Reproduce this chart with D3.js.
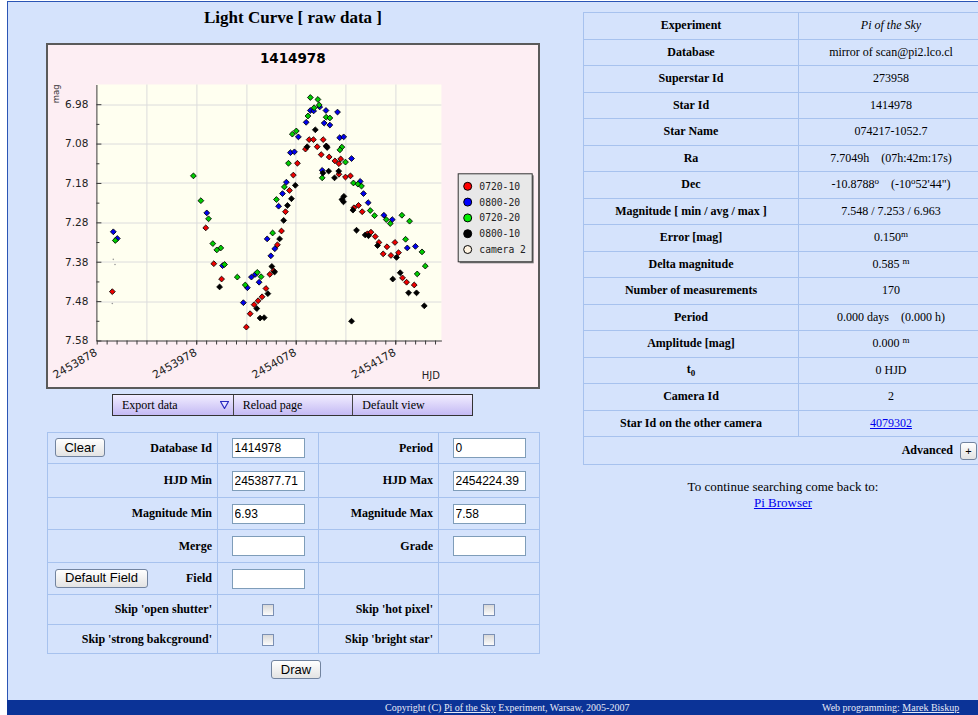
<!DOCTYPE html>
<html>
<head>
<meta charset="utf-8">
<script src="https://d3js.org/d3.v7.min.js"></script>
<style>
  body { margin: 0; width: 978px; height: 715px; overflow: hidden; background: #fff;
         font-family: "Liberation Serif", "Times New Roman", serif; font-size: 12px; color: #000; }
  #frame { position: absolute; left: 7px; top: 1px; width: 980px; height: 699px;
           background: #d5e3fc; border-top: 1px solid #2b55b5; border-left: 1px solid #2b55b5; }
  #title { position: absolute; left: 47px; width: 492px; top: 8px; text-align: center;
           font-weight: bold; font-size: 17px; }
  #chart { position: absolute; left: 46px; top: 43px; }
  #menu { position: absolute; left: 112px; top: 394px; width: 359px; height: 20px;
          border: 1px solid #333; background: linear-gradient(#f1edff, #c4baf4); display: flex; }
  #menu div { width: 120px; line-height: 20px; padding-left: 9px; box-sizing: border-box; position: relative; }
  #menu div + div { border-left: 1px solid #444; }
  #menu svg { position: absolute; left: 107px; top: 6px; }
  table { border-collapse: collapse; table-layout: fixed; position: absolute; }
  td, th { border: 1px solid #a7c2ee; padding: 0; }
  #form { left: 47px; top: 432px; width: 492px; border: 1px solid #a0bcec; }
  #form td { position: relative; font-weight: bold; text-align: right; padding-right: 5px; }
  #form td.c { text-align: center; padding-right: 0; }
  .inp { width: 73px; height: 20px; box-sizing: border-box; border: 1px solid #7f9db9; background: #fff;
         font-family: "Liberation Sans", sans-serif; font-size: 12px; padding: 0 2px; vertical-align: middle; }
  .btn { font-family: "Liberation Sans", sans-serif; font-size: 13px; height: 19px; padding: 0;
         border: 1px solid #72849f; border-radius: 3px; background: linear-gradient(#ffffff, #e3e3e3);
         color: #000; line-height: 16px; font-weight: normal; }
  #form .btn { position: absolute; left: 7px; top: 50%; margin-top: -10px; }
  .chk { -webkit-appearance: none; appearance: none; width: 12px; height: 12px; margin: 0;
         border: 1px solid #7b90b4; background: linear-gradient(#d9d9d9, #fbfbfb); vertical-align: middle; }
  #draw { position: absolute; left: 271px; top: 660px; width: 50px; }
  #info { left: 583px; top: 12px; width: 400px; border: 1px solid #9cb8ea; }
  #info th, #info td { height: 25.5px; text-align: center; }
  #info th { font-weight: bold; }
  #info sup { font-size: 9px; vertical-align: 4px; line-height: 0; }
  #info td.adv { text-align: right; padding-right: 6px; height: 27px; }
  .plus { width: 17px; height: 18px; font-size: 11px; vertical-align: middle; margin-left: 7px; line-height: 14px; }
  a { color: #0000ee; text-decoration: underline; }
  #back { position: absolute; left: 583px; width: 400px; top: 479px; text-align: center;
          font-size: 13px; line-height: 16px; }
  #footer { position: absolute; left: 7px; top: 700px; width: 971px; height: 15px; background: #0b3397;
            color: #e6e9f6; font-size: 10px; line-height: 15px; white-space: nowrap; }
  #footer a { color: #e6e9f6; }
</style>
</head>
<body>
<div id="frame"></div>
<div id="title">Light Curve [ raw data ]</div>
<div id="chart"></div>

<div id="menu">
  <div>Export data<svg width="9" height="8"><polygon points="0.5,0.5 8.5,0.5 4.5,7.5" fill="#e8e4ff" stroke="#2a2ac0" stroke-width="1.2"/></svg></div>
  <div>Reload page</div>
  <div>Default view</div>
</div>

<table id="form">
  <colgroup><col style="width:170px"><col style="width:101px"><col style="width:120px"><col style="width:101px"></colgroup>
  <tr style="height:31px"><td><button class="btn" style="width:50px">Clear</button>Database Id</td>
    <td class="c"><input class="inp" value="1414978"></td><td>Period</td><td class="c"><input class="inp" value="0"></td></tr>
  <tr style="height:34px"><td>HJD Min</td><td class="c"><input class="inp" value="2453877.71"></td>
    <td>HJD Max</td><td class="c"><input class="inp" value="2454224.39"></td></tr>
  <tr style="height:32px"><td>Magnitude Min</td><td class="c"><input class="inp" value="6.93"></td>
    <td>Magnitude Max</td><td class="c"><input class="inp" value="7.58"></td></tr>
  <tr style="height:33px"><td>Merge</td><td class="c"><input class="inp" value=""></td>
    <td>Grade</td><td class="c"><input class="inp" value=""></td></tr>
  <tr style="height:32px"><td><button class="btn" style="width:93px">Default Field</button>Field</td>
    <td class="c"><input class="inp" value=""></td><td></td><td></td></tr>
  <tr style="height:30px"><td>Skip 'open shutter'</td><td class="c"><input type="checkbox" class="chk"></td>
    <td>Skip 'hot pixel'</td><td class="c"><input type="checkbox" class="chk"></td></tr>
  <tr style="height:29px"><td>Skip 'strong bakcground'</td><td class="c"><input type="checkbox" class="chk"></td>
    <td>Skip 'bright star'</td><td class="c"><input type="checkbox" class="chk"></td></tr>
</table>
<button id="draw" class="btn">Draw</button>

<table id="info">
  <colgroup><col style="width:215px"><col style="width:185px"></colgroup>
  <tr><th>Experiment</th><td><i>Pi of the Sky</i></td></tr>
  <tr><th>Database</th><td>mirror of scan@pi2.lco.cl</td></tr>
  <tr><th>Superstar Id</th><td>273958</td></tr>
  <tr><th>Star Id</th><td>1414978</td></tr>
  <tr><th>Star Name</th><td>074217-1052.7</td></tr>
  <tr><th>Ra</th><td>7.7049h &nbsp;&nbsp; (07h:42m:17s)</td></tr>
  <tr><th>Dec</th><td>-10.8788<sup>o</sup> &nbsp;&nbsp; (-10<sup>o</sup>52'44")</td></tr>
  <tr><th>Magnitude [ min / avg / max ]</th><td>7.548 / 7.253 / 6.963</td></tr>
  <tr><th>Error [mag]</th><td>0.150<sup>m</sup></td></tr>
  <tr><th>Delta magnitude</th><td>0.585 <sup>m</sup></td></tr>
  <tr><th>Number of measurements</th><td>170</td></tr>
  <tr><th>Period</th><td>0.000 days &nbsp;&nbsp; (0.000 h)</td></tr>
  <tr><th>Amplitude [mag]</th><td>0.000 <sup>m</sup></td></tr>
  <tr><th>t<sub style="font-size:9px">0</sub></th><td>0 HJD</td></tr>
  <tr><th>Camera Id</th><td>2</td></tr>
  <tr><th>Star Id on the other camera</th><td><a href="#">4079302</a></td></tr>
  <tr><td colspan="2" class="adv"><b>Advanced</b><button class="btn plus">+</button></td></tr>
</table>

<div id="back">To continue searching come back to:<br><a href="#">Pi Browser</a></div>

<div id="footer">
  <span style="position:absolute;left:378px">Copyright (C) <a href="#">Pi of the Sky</a> Experiment, Warsaw, 2005-2007</span>
  <span style="position:absolute;left:815px">Web programming: <a href="#">Marek Biskup</a></span>
</div>

<script>
// Light curve values (HJD, magnitude), one pair of arrays per series
var hjdRed = [2453893.7, 2453987.6, 2453995.7, 2454003.5, 2454028.4, 2454032.2, 2454036.2, 2454040.2,
  2454044.2, 2454048.1, 2454052.0, 2454055.8, 2454059.6, 2454063.7, 2454067.7, 2454071.7, 2454075.6,
  2454079.7, 2454087.8, 2454091.5, 2454095.8, 2454099.6, 2454105.6, 2454103.6, 2454111.6, 2454117.4,
  2454121.4, 2454123.2, 2454128.0, 2454133.0, 2454136.5, 2454141.1, 2454144.8, 2454150.1, 2454153.6,
  2454157.9, 2454161.6, 2454169.7, 2454177.7, 2454165.9, 2454173.7, 2454181.3, 2454185.3, 2454189.4,
  2454197.1, 2454109.1, 2454121.4];
var magRed = [7.456, 7.294, 7.385, 7.424, 7.546, 7.512, 7.489, 7.479, 7.469, 7.448, 7.412, 7.403, 7.337,
  7.302, 7.253, 7.199, 7.160, 7.130, 7.094, 7.070, 7.070, 7.088, 7.070, 7.108, 7.114, 7.124, 7.131, 7.119,
  7.165, 7.162, 7.243, 7.237, 7.253, 7.309, 7.305, 7.316, 7.331, 7.342, 7.331, 7.360, 7.364, 7.357, 7.421,
  7.432, 7.439, 7.087, 7.158];

var hjdBlue = [2453894.7, 2453898.7, 2453988.6, 2454004.5, 2454029.4, 2454025.4, 2454033.5, 2454037.4,
  2454041.2, 2454049.3, 2454053.0, 2454057.0, 2454060.8, 2454064.7, 2454068.6, 2454072.7, 2454076.7,
  2454080.7, 2454088.5, 2454092.7, 2454096.0, 2454102.1, 2454108.4, 2454120.0, 2454106.6, 2454112.3,
  2454122.2, 2454126.2, 2454134.1, 2454104.6, 2454142.8, 2454146.1, 2454150.8, 2454166.6, 2454175.0,
  2454190.1, 2454198.3];
var magBlue = [7.304, 7.321, 7.256, 7.390, 7.446, 7.484, 7.419, 7.412, 7.432, 7.322, 7.365, 7.347, 7.239,
  7.207, 7.178, 7.103, 7.101, 7.063, 7.026, 6.996, 6.997, 6.987, 6.996, 7.000, 7.028, 7.033, 7.065, 7.063,
  7.118, 7.148, 7.176, 7.207, 7.230, 7.262, 7.273, 7.345, 7.341];

var hjdGreen = [2453896.7, 2453975.2, 2453982.7, 2453990.4, 2453994.7, 2453998.7, 2454002.7, 2454006.5,
  2454019.3, 2454027.3, 2454039.4, 2454043.2, 2454054.8, 2454058.6, 2454066.6, 2454070.7, 2454074.6,
  2454078.6, 2454090.3, 2454092.7, 2454100.3, 2454096.5, 2454101.6, 2454108.6, 2454112.3, 2454124.4,
  2454122.4, 2454128.0, 2454104.6, 2454136.0, 2454140.5, 2454144.1, 2454152.9, 2454157.2, 2454169.0,
  2454173.0, 2454184.7, 2454192.4, 2454188.4, 2454204.9, 2454208.2, 2454200.1];
var magGreen = [7.326, 7.162, 7.225, 7.271, 7.334, 7.350, 7.345, 7.387, 7.419, 7.439, 7.407, 7.418, 7.307,
  7.222, 7.190, 7.130, 7.056, 7.048, 7.010, 6.963, 6.968, 6.989, 6.982, 7.013, 7.015, 7.089, 7.096, 7.127,
  7.167, 7.180, 7.183, 7.188, 7.250, 7.263, 7.273, 7.283, 7.262, 7.277, 7.323, 7.355, 7.391, 7.411];

var hjdBlack = [2454001.5, 2454038.9, 2454042.2, 2454046.3, 2454050.0, 2454054.0, 2454056.8, 2454061.8,
  2454065.9, 2454069.7, 2454073.7, 2454077.6, 2454089.5, 2454097.7, 2454108.6, 2454109.6, 2454105.3,
  2454111.1, 2454117.0, 2454121.2, 2454126.4, 2454124.4, 2454126.0, 2454135.5, 2454139.1, 2454134.1,
  2454147.8, 2454151.1, 2454160.2, 2454179.3, 2454183.0, 2454175.5, 2454191.4, 2454199.4, 2454207.2];
var magBlack = [7.444, 7.499, 7.523, 7.522, 7.461, 7.392, 7.406, 7.322, 7.275, 7.237, 7.220, 7.186, 7.088,
  7.045, 7.086, 7.090, 7.155, 7.150, 7.167, 7.150, 7.214, 7.222, 7.228, 7.249, 7.300, 7.531, 7.312, 7.314,
  7.339, 7.369, 7.408, 7.424, 7.459, 7.459, 7.492];

// camera 2 points are only tiny dots
var hjdCam2 = [2453894.7, 2453896.4, 2453893.7];
var magCam2 = [7.374, 7.387, 7.486];

var seriesNames = ["0720-10", "0800-20", "0720-20", "0800-10", "camera 2"];
var legendColors = ["#ff0000", "#0000ff", "#00ee00", "#000000", "#fff4e2"];

var hjdMin = 2453877.71, hjdMax = 2454224.39;
var magMin = 6.93, magMax = 7.58;
var xTickValues = [2453878, 2453978, 2454078, 2454178];
var xGridValues = [2453928, 2453978, 2454028, 2454078, 2454128, 2454178];
var yTickValues = [6.98, 7.08, 7.18, 7.28, 7.38, 7.48, 7.58];

var svgWidth = 494;
var svgHeight = 346;

var margin = {
  top: 41.5,
  right: 98.6,
  bottom: 48.5,
  left: 50.4
};

var width = svgWidth - margin.left - margin.right;
var height = svgHeight - margin.top - margin.bottom;

var svg = d3.select("#chart")
  .append("svg")
  .attr("width", svgWidth)
  .attr("height", svgHeight)
  .style("display", "block");

// image background with its dark frame
svg.append("rect")
  .attr("x", 1).attr("y", 1)
  .attr("width", svgWidth - 2).attr("height", svgHeight - 2)
  .attr("fill", "#fdeef3")
  .attr("stroke", "#5a5a5a")
  .attr("stroke-width", 2);

svg.append("text")
  .attr("x", 246.8).attr("y", 19.7)
  .attr("text-anchor", "middle")
  .style("font", "bold 13.5px 'DejaVu Sans'")
  .text("1414978");

var chartGroup = svg.append("g")
  .attr("transform", `translate(${margin.left}, ${margin.top})`);

chartGroup.append("rect")
  .attr("width", width)
  .attr("height", height)
  .attr("fill", "#fffff0");

var xScale = d3.scaleLinear().domain([hjdMin, hjdMax]).range([0, width]);
var yScale = d3.scaleLinear().domain([magMin, magMax]).range([0, height]);

// grid lines
chartGroup.append("g").selectAll("line")
  .data(xGridValues)
  .enter()
  .append("line")
  .attr("x1", d => Math.round(xScale(d)) + 0.5)
  .attr("x2", d => Math.round(xScale(d)) + 0.5)
  .attr("y1", 0).attr("y2", height)
  .attr("stroke", "#dcdcdc");

chartGroup.append("g").selectAll("line")
  .data(yTickValues.slice(0, -1))
  .enter()
  .append("line")
  .attr("x1", 0).attr("x2", width)
  .attr("y1", d => Math.round(yScale(d)) + 0.5)
  .attr("y2", d => Math.round(yScale(d)) + 0.5)
  .attr("stroke", "#dcdcdc");

// axes, y ticks point inwards, x ticks outwards
var leftAxis = d3.axisLeft(yScale)
  .tickValues(yTickValues)
  .tickFormat(d3.format(".2f"))
  .tickSize(-5)
  .tickSizeOuter(0)
  .tickPadding(8);

var leftMinor = d3.axisLeft(yScale)
  .tickValues(d3.range(7.03, 7.58, 0.1))
  .tickFormat("")
  .tickSize(-3);

var bottomAxis = d3.axisBottom(xScale)
  .tickValues(xTickValues)
  .tickFormat(d3.format("d"))
  .tickSize(4)
  .tickSizeOuter(0);

var bottomMinor = d3.axisBottom(xScale)
  .tickValues(d3.range(2453888, hjdMax, 10))
  .tickFormat("")
  .tickSize(4);

var yAxis = chartGroup.append("g").call(leftAxis);
chartGroup.append("g").call(leftMinor).select(".domain").remove();

var xAxis = chartGroup.append("g")
  .attr("transform", `translate(0, ${height})`)
  .call(bottomAxis);
chartGroup.append("g")
  .attr("transform", `translate(0, ${height})`)
  .call(bottomMinor)
  .select(".domain").remove();

chartGroup.selectAll(".domain, .tick line").attr("stroke", "#3a3a3a");

yAxis.selectAll("text")
  .attr("fill", "#222")
  .style("font", "10.5px 'DejaVu Sans'");

xAxis.selectAll("text")
  .attr("x", 0).attr("y", 0).attr("dy", 0)
  .attr("text-anchor", "end")
  .attr("transform", "translate(1, 14) rotate(-30)")
  .attr("fill", "#222")
  .style("font", "11px 'DejaVu Sans'");

// axis titles
svg.append("text")
  .attr("transform", "translate(13, 60.3) rotate(-90)")
  .style("font", "8.5px 'DejaVu Sans'")
  .attr("fill", "#333")
  .text("mag");

svg.append("text")
  .attr("x", 394).attr("y", 336.3)
  .attr("text-anchor", "end")
  .style("font", "10px 'DejaVu Sans'")
  .attr("fill", "#222")
  .text("HJD");

// camera 2 dots
chartGroup.append("g").selectAll("circle")
  .data(d3.zip(hjdCam2, magCam2))
  .enter()
  .append("circle")
  .attr("cx", d => xScale(d[0]))
  .attr("cy", d => yScale(d[1]))
  .attr("r", 0.8)
  .attr("fill", "#999");

// diamond markers
var diamond = d3.symbol().type(d3.symbolSquare).size(17);
var series = [
  { hjd: hjdRed, mag: magRed, color: "#ee0000" },
  { hjd: hjdBlue, mag: magBlue, color: "#0000ee" },
  { hjd: hjdGreen, mag: magGreen, color: "#00cc00" },
  { hjd: hjdBlack, mag: magBlack, color: "#000000" }
];

series.forEach(function(s) {
  chartGroup.append("g").selectAll("path")
    .data(d3.zip(s.hjd, s.mag))
    .enter()
    .append("path")
    .attr("d", diamond)
    .attr("transform", d => `translate(${xScale(d[0])}, ${yScale(d[1])}) rotate(45)`)
    .attr("fill", s.color)
    .attr("stroke", "#000")
    .attr("stroke-width", 0.8);
});

// legend box with shadow
var legend = svg.append("g").attr("transform", "translate(411.7, 130.3)");
legend.append("rect")
  .attr("x", 2).attr("y", 2).attr("width", 74).attr("height", 88)
  .attr("fill", "#777");
legend.append("rect")
  .attr("x", 0.5).attr("y", 0.5).attr("width", 74).attr("height", 88)
  .attr("fill", "#e8e8e8")
  .attr("stroke", "#333");

var legendItems = legend.selectAll(".item")
  .data(seriesNames)
  .enter()
  .append("g")
  .attr("transform", (d, i) => `translate(0, ${13 + i * 15.8})`);

legendItems.append("circle")
  .attr("cx", 10).attr("cy", 0).attr("r", 4)
  .attr("fill", (d, i) => legendColors[i])
  .attr("stroke", "#000");

legendItems.append("text")
  .attr("x", 21.6).attr("y", 0).attr("dy", "0.35em")
  .style("font", "9.7px 'DejaVu Sans Mono'")
  .attr("fill", "#222")
  .text(d => d);
</script>
</body>
</html>
